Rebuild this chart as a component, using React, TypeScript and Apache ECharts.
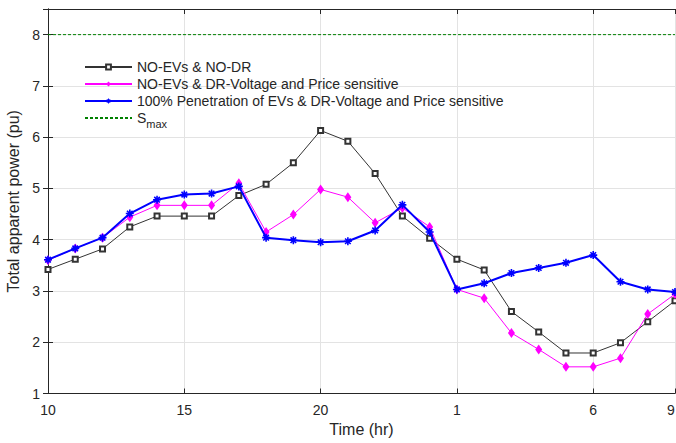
import React, { useEffect, useRef } from 'react';
import * as echarts from 'echarts';

const hourLabels = ['10','11','12','13','14','15','16','17','18','19','20','21','22','23','24','1','2','3','4','5','6','7','8','9'];
const xTicks = [0, 5, 10, 15, 20, 23];

const noEvNoDr = [3.42, 3.62, 3.82, 4.25, 4.46, 4.46, 4.46, 4.86, 5.08, 5.50, 6.13, 5.92, 5.29, 4.46, 4.03, 3.62, 3.41, 2.60, 2.20, 1.79, 1.79, 1.99, 2.40, 2.81];
const noEvDr = [3.60, 3.83, 4.04, 4.44, 4.67, 4.67, 4.67, 5.10, 4.15, 4.49, 4.98, 4.83, 4.33, 4.62, 4.25, 3.03, 2.86, 2.18, 1.86, 1.52, 1.52, 1.69, 2.55, 2.94];
const ev100Dr = [3.61, 3.83, 4.04, 4.51, 4.78, 4.88, 4.90, 5.04, 4.04, 3.99, 3.95, 3.97, 4.18, 4.68, 4.15, 3.03, 3.15, 3.35, 3.45, 3.55, 3.70, 3.18, 3.03, 2.98];
const sMax = 8;

const seriesNames = [
  'NO-EVs & NO-DR',
  'NO-EVs & DR-Voltage and Price sensitive',
  '100% Penetration of EVs & DR-Voltage and Price sensitive',
  'Smax',
];

const asterisk =
  'path://M-5,-1L5,-1L5,1L-5,1Z M-1,-5L1,-5L1,5L-1,5Z M-4.2,-2.8L-2.8,-4.2L4.2,2.8L2.8,4.2Z M-4.2,2.8L2.8,-4.2L4.2,-2.8L-2.8,4.2Z';

const FONT = 'Arial, "Liberation Sans", Helvetica, sans-serif';
const TXT = '#262626';

export default function App() {
  const ref = useRef<HTMLDivElement>(null);
  useEffect(() => {
    if (!ref.current) return;
    const chart = echarts.init(ref.current, undefined, { renderer: 'svg' });
    const toPairs = (arr: number[]) => arr.map((v, i) => [i, v]);
    chart.setOption({
      animation: false,
      backgroundColor: '#ffffff',
      textStyle: { fontFamily: FONT },
      grid: { left: 48, right: 1, top: 9, bottom: 49.5, containLabel: false, outerBoundsMode: 'none' },
      legend: {
        orient: 'vertical',
        left: 79,
        top: 55,
        itemWidth: 47,
        itemHeight: 6,
        itemGap: 3,
        data: [
          { name: seriesNames[0] },
          { name: seriesNames[1] },
          { name: seriesNames[2] },
          { name: seriesNames[3], itemStyle: { opacity: 0 } },
        ],
        textStyle: {
          fontFamily: FONT,
          fontSize: 14,
          color: TXT,
          rich: {
            s: { fontSize: 14, color: TXT, fontFamily: FONT },
            sub: { fontSize: 11, color: TXT, fontFamily: FONT, padding: [12, 0, 0, 0] },
          },
        },
        formatter: (name: string) => (name === 'Smax' ? '{s|S}{sub|max}' : name),
      },
      xAxis: [
        {
          type: 'value',
          min: 0,
          max: 23,
          interval: 5,
          name: 'Time (hr)',
          nameLocation: 'middle',
          nameGap: 28,
          nameTextStyle: { fontSize: 16, color: TXT, fontFamily: FONT },
          axisLine: { show: true, lineStyle: { color: '#262626', width: 1 } },
          axisTick: { show: true, inside: true, length: 5, lineStyle: { color: '#262626' } },
          axisLabel: {
            fontSize: 14,
            color: TXT,
            margin: 9,
            rich: { last: { fontSize: 14, color: TXT, fontFamily: FONT, padding: [0, 8, 0, 0] } },
            formatter: (v: number) =>
              v === 23 ? '{last|' + hourLabels[v] + '}' : xTicks.includes(v) ? hourLabels[v] : '',
          },
          splitLine: { show: true, lineStyle: { color: '#e3e3e3', width: 1 } },
        },
        {
          type: 'value',
          position: 'top',
          min: 0,
          max: 23,
          interval: 5,
          axisLine: { show: true, lineStyle: { color: '#262626', width: 1 } },
          axisTick: { show: true, inside: true, length: 5, lineStyle: { color: '#262626' } },
          axisLabel: { show: false },
          splitLine: { show: false },
        },
      ],
      yAxis: [
        {
          type: 'value',
          min: 1,
          max: 8.5,
          interval: 1,
          name: 'Total apparent power (pu)',
          nameLocation: 'middle',
          nameGap: 21,
          nameTextStyle: { fontSize: 16, color: TXT, fontFamily: FONT },
          axisLine: { show: true, lineStyle: { color: '#262626', width: 1 } },
          axisTick: { show: true, inside: true, length: 5, lineStyle: { color: '#262626' } },
          axisLabel: {
            fontSize: 14,
            color: TXT,
            margin: 8,
            showMaxLabel: false,
            formatter: (v: number) => (Number.isInteger(v) ? String(v) : ''),
          },
          splitLine: { show: true, lineStyle: { color: '#e3e3e3', width: 1 } },
        },
        {
          type: 'value',
          position: 'right',
          min: 1,
          max: 8.5,
          interval: 1,
          axisLine: { show: true, lineStyle: { color: '#262626', width: 1 } },
          axisTick: { show: true, inside: true, length: 5, lineStyle: { color: '#262626' } },
          axisLabel: { show: false },
          splitLine: { show: false },
        },
      ],
      series: [
        {
          name: seriesNames[0],
          type: 'line',
          data: toPairs(noEvNoDr),
          symbol: 'emptyRect',
          symbolSize: 5,
          lineStyle: { color: '#333333', width: 1 },
          itemStyle: { color: '#333333', borderWidth: 0.8 },
          z: 3,
        },
        {
          name: seriesNames[1],
          type: 'line',
          data: toPairs(noEvDr),
          symbol: 'diamond',
          symbolSize: [7, 10],
          lineStyle: { color: '#ff00ff', width: 1 },
          itemStyle: { color: '#ff00ff' },
          z: 4,
        },
        {
          name: seriesNames[2],
          type: 'line',
          data: toPairs(ev100Dr),
          symbol: asterisk,
          symbolSize: 8,
          lineStyle: { color: '#0000ff', width: 2 },
          itemStyle: { color: '#0000ff' },
          z: 5,
        },
        {
          name: seriesNames[3],
          type: 'line',
          data: [[0, sMax], [23, sMax]],
          symbol: 'none',
          lineStyle: { color: '#008000', width: 1, type: [3, 2] },
          itemStyle: { color: '#008000' },
          z: 2,
        },
      ],
    });
    return () => chart.dispose();
  }, []);
  return (
    <div
      ref={ref}
      style={{ position: 'absolute', left: 0, top: 0, width: 676, height: 443 }}
    />
  );
}
